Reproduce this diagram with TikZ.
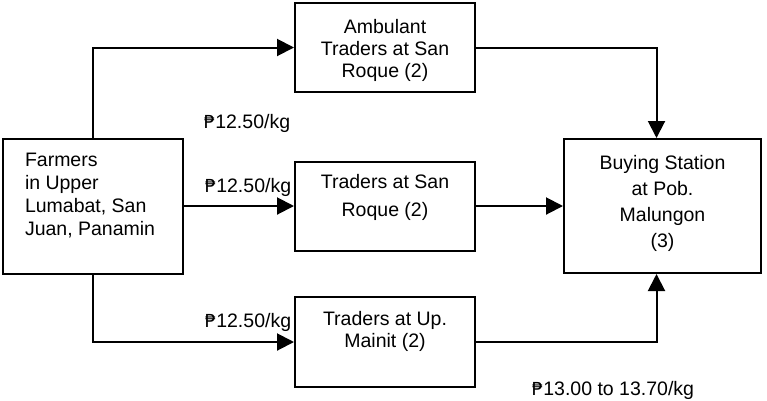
\documentclass[tikz,border=0pt]{standalone}
\usepackage{fontspec}
\setmainfont{Liberation Sans}
\newfontfamily\pesofont[Scale=0.92]{DejaVu Sans}
\usepackage{tikz}
\usetikzlibrary{arrows.meta}

\newcommand{\peso}{{\pesofont ₱}}
\newcommand{\stagetext}[5]{\parbox[c][#1][t]{#2}{\fontsize{19.5}{#3}\selectfont\vspace*{#4}#5\par}}

\begin{document}
\begin{tikzpicture}[x=1pt, y=-1pt,
    stage/.style={draw, line width=2pt, inner sep=0pt},
    flow/.style={line width=2pt, -{Triangle[length=17pt, width=17pt]}},
    price/.style={anchor=base, inner sep=0pt, font=\fontsize{19.5}{23}\selectfont}]
    \useasboundingbox (0,0) rectangle (767,400);

    \node[stage] (farmers) at (93,206)
        {\stagetext{135pt}{180pt}{23pt}{15pt}{\raggedright\leftskip=22pt Farmers\\in Upper\\Lumabat, San\\Juan, Panamin}};
    \node[stage] (ambulant) at (385,47.5)
        {\stagetext{89pt}{180pt}{22pt}{16pt}{\centering Ambulant\\Traders at San\\Roque (2)}};
    \node[stage] (sanroque) at (385,206)
        {\stagetext{89pt}{180pt}{28pt}{13pt}{\centering Traders at San\\Roque (2)}};
    \node[stage] (mainit) at (385,342)
        {\stagetext{90pt}{180pt}{22pt}{14pt}{\centering Traders at Up.\\Mainit (2)}};
    \node[stage] (buying) at (662.5,206)
        {\stagetext{134pt}{197pt}{26pt}{16pt}{\centering Buying Station\\at Pob.\\Malungon\\(3)}};

    \node[price] (p1) at (247,128) {\peso12.50/kg};
    \node[price] (p2) at (248,192) {\peso12.50/kg};
    \node[price] (p3) at (248,327) {\peso12.50/kg};
    \node[price] (p4) at (613,395) {\peso13.00 to 13.70/kg};

    \draw[flow] (farmers.north) |- (ambulant.west);
    \draw[flow] (farmers.east) -- (sanroque.west);
    \draw[flow] (farmers.south) |- (mainit.west);
    \draw[flow] (ambulant.east) -| ([xshift=-6pt]buying.north);
    \draw[flow] (sanroque.east) -- (buying.west);
    \draw[flow] (mainit.east) -| ([xshift=-6pt]buying.south);
\end{tikzpicture}
\end{document}
